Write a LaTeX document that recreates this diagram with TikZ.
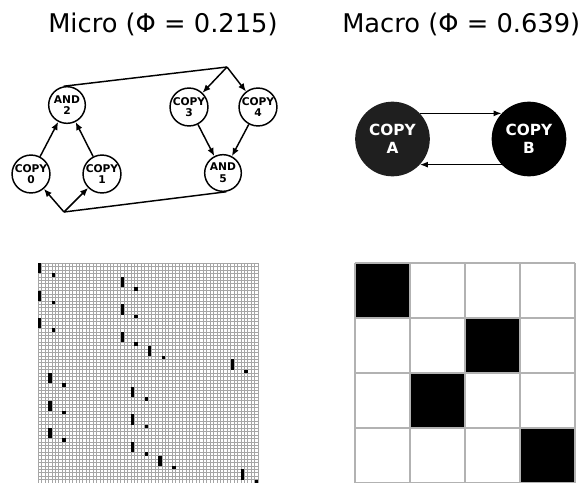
\documentclass[tikz,border=0pt]{standalone}
\usepackage{fontspec}
\setmainfont{DejaVu Sans}
\usetikzlibrary{arrows.meta}
\begin{document}
\begin{tikzpicture}[x=0.75pt,y=-0.75pt,
  mnode/.style={circle,draw,line width=1.1pt,minimum size=27.5pt,inner sep=0pt,align=center,
    font=\bfseries\fontsize{8}{8.8}\selectfont},
  Mnode/.style={circle,draw=none,minimum size=56pt,inner sep=0pt,align=center,text=white,
    font=\bfseries\fontsize{11.5}{13.6}\selectfont},
  arr/.style={line width=1.1pt,-{Latex[length=6pt,width=5pt]}},
  plain/.style={line width=1.1pt},
  Marr/.style={line width=0.8pt,-{Latex[length=6pt,width=4.5pt]}},
  title/.style={anchor=base west,inner sep=0pt,font=\fontsize{19.3}{22}\selectfont}]
\useasboundingbox (0,0) rectangle (587,483);
\fill[white] (0,0) rectangle (587,483);

% titles
\node[title] (t1) at (48,32) {Micro (Φ = 0.215)};
\node[title] (t2) at (342,32) {Macro (Φ = 0.639)};

% micro graph
\node[mnode] (a2) at (67,105) {AND\\2};
\node[mnode] (c0) at (31,174) {COPY\\0};
\node[mnode] (c1) at (102,174) {COPY\\1};
\node[mnode] (c3) at (189,107) {COPY\\3};
\node[mnode] (c4) at (258,107) {COPY\\4};
\node[mnode] (a5) at (223,173) {AND\\5};
\coordinate (tj) at (227,67);
\coordinate (bj) at (64,212);
\draw[arr] (c0) -- (a2);
\draw[arr] (c1) -- (a2);
\draw[arr] (c3) -- (a5);
\draw[arr] (c4) -- (a5);
\draw[plain,line join=miter] (a2.100) -- (tj);
\draw[arr] (tj) -- (c3);
\draw[arr] (tj) -- (c4);
\draw[plain] (a5.-80) -- (bj);
\draw[arr] (bj) -- (c0);
\draw[arr] (bj) -- (c1);

% macro graph
\node[Mnode,fill=black!88] (A) at (392.5,139) {COPY\\A};
\node[Mnode,fill=black] (B) at (529,139) {COPY\\B};
\draw[Marr] (A.43) -- (B.137);
\draw[Marr] (B.-137) -- (A.-43);

% micro TPM
\def\cs{3.4375}
\foreach \i in {0,...,64}{
  \draw[black!35,line width=0.35pt] (38+\i*\cs,263) -- (38+\i*\cs,483);
  \draw[black!35,line width=0.35pt] (38,263+\i*\cs) -- (258,263+\i*\cs);
}
\foreach \s in {0,...,63}{
  \pgfmathtruncatemacro{\nx}{3*mod(int(\s/32),2) + 4*mod(\s,2)*mod(int(\s/2),2) + 24*mod(int(\s/4),2) + 32*mod(int(\s/8),2)*mod(int(\s/16),2)}
  \fill[black] (38+\nx*\cs,263+\s*\cs) rectangle ++(\cs,\cs);
}

% macro TPM
\def\ms{55}
\foreach \r/\c in {0/0,1/2,2/1,3/3}{
  \fill[black] (355+\c*\ms,263+\r*\ms) rectangle ++(\ms,\ms);
}
\foreach \i in {0,...,4}{
  \draw[black!30,line width=0.8pt] (355+\i*\ms,263) -- (355+\i*\ms,483);
  \draw[black!30,line width=0.8pt] (355,263+\i*\ms) -- (575,263+\i*\ms);
}
\end{tikzpicture}
\end{document}
